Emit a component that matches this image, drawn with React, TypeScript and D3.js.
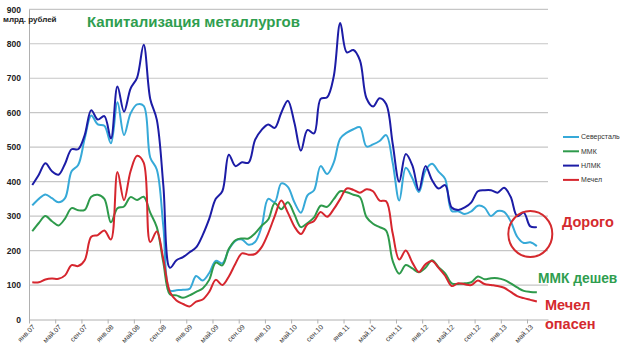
import React, { useRef, useEffect } from "react";
import * as d3 from "d3";

// monthly values, first point = mid Jan 2007
const severstal = [331, 350, 363, 352, 340, 352, 430, 448, 525, 592, 566, 562, 511, 630, 535, 598, 624, 620, 470, 435,
  270, 84, 85, 86, 89, 126, 113, 135, 170, 163, 203, 228, 232, 217, 225, 270, 350, 341, 395, 385,
  340, 310, 360, 375, 445, 422, 455, 525, 542, 552, 558, 502, 508, 518, 535, 455, 345, 440, 410, 370,
  432, 452, 429, 408, 315, 314, 306, 314, 330, 325, 300, 315, 312, 285, 240, 222, 224, 213];
const mmk = [256, 280, 300, 285, 273, 293, 323, 317, 318, 356, 362, 350, 282, 323, 328, 355, 347, 356, 310, 268,
  165, 73, 70, 63, 70, 80, 90, 115, 165, 157, 205, 230, 235, 235, 250, 272, 290, 337, 320, 340,
  305, 268, 280, 296, 330, 327, 349, 372, 369, 362, 355, 297, 278, 268, 258, 170, 133, 158, 148, 137,
  150, 172, 152, 134, 105, 103, 105, 108, 125, 117, 120, 120, 115, 105, 93, 83, 80, 79];
const nlmk = [390, 420, 453, 430, 420, 452, 494, 494, 535, 607, 580, 590, 525, 676, 603, 670, 702, 797, 640, 580,
  389, 150, 172, 181, 195, 209, 245, 292, 350, 372, 478, 445, 456, 455, 521, 550, 566, 556, 600, 635,
  571, 490, 550, 540, 640, 645, 705, 860, 775, 782, 752, 642, 618, 642, 625, 510, 400, 480, 447, 375,
  445, 405, 380, 390, 325, 318, 325, 340, 372, 375, 375, 368, 382, 356, 300, 310, 270, 268];
const mechel = [108, 108, 116, 119, 118, 128, 158, 155, 172, 240, 245, 258, 232, 428, 346, 430, 475, 455, 225, 255,
  175, 80, 55, 45, 38, 52, 58, 80, 115, 100, 125, 162, 192, 188, 190, 210, 250, 300, 345, 310,
  270, 248, 276, 286, 312, 298, 320, 350, 380, 376, 368, 378, 372, 345, 343, 250, 174, 200, 165, 138,
  160, 170, 150, 127, 97, 105, 102, 100, 113, 103, 100, 97, 92, 80, 68, 62, 57, 52];

const seriesNames = ["Северсталь", "ММК", "НЛМК", "Мечел"];
const seriesColors = ["#36a9d8", "#2e9a4b", "#1c1ca6", "#d6262e"];
const tickLabels = ["янв.07", "май.07", "сен.07", "янв.08", "май.08", "сен.08", "янв.09", "май.09", "сен.09", "янв.10",
  "май.10", "сен.10", "янв.11", "май.11", "сен.11", "янв.12", "май.12", "сен.12", "янв.13", "май.13"];
const yTicks = [0, 100, 200, 300, 400, 500, 600, 700, 800, 900];

const font = "'Liberation Sans', Arial, sans-serif";

const App = () => {
  const svgRef = useRef<SVGSVGElement>(null);

  useEffect(() => {
    const svg = d3.select(svgRef.current);
    svg.selectAll("*").remove();

    const x = d3.scaleLinear().domain([0, 79.2]).range([29, 548]);
    const y = d3.scaleLinear().domain([0, 900]).range([319.5, 9.3]);

    // gridlines
    svg.append("g")
      .selectAll("line")
      .data(yTicks.slice(1))
      .enter()
      .append("line")
      .attr("x1", 29)
      .attr("x2", 548)
      .attr("y1", d => y(d))
      .attr("y2", d => y(d))
      .attr("stroke", "#c6c6c6")
      .attr("stroke-width", 1.2);

    // y axis
    const yAxis = svg.append("g")
      .attr("transform", "translate(29,0)")
      .call(d3.axisLeft(y).tickValues(yTicks).tickSize(0).tickPadding(8));
    yAxis.select(".domain").attr("stroke", "#b0b0b0");
    yAxis.selectAll("text")
      .attr("font-family", font)
      .attr("font-size", 8.5)
      .attr("font-weight", "bold")
      .attr("fill", "#222");

    // x axis
    const xAxis = svg.append("g")
      .attr("transform", `translate(0,${y(0)})`)
      .call(d3.axisBottom(x).tickValues(tickLabels.map((_, i) => i * 4))
        .tickFormat((_, i) => tickLabels[i]).tickSize(4).tickSizeOuter(0));
    xAxis.select(".domain").attr("stroke", "#b0b0b0");
    xAxis.selectAll("line").attr("stroke", "#b0b0b0");
    xAxis.selectAll("text")
      .attr("font-family", font)
      .attr("font-size", 7)
      .attr("fill", "#333")
      .attr("text-anchor", "end")
      .attr("dy", 0)
      .attr("transform", "translate(1,3) rotate(-45)");

    // lines
    const allSeries = [severstal, mmk, nlmk, mechel];
    const line = d3.line<number>()
      .x((_, i) => x(i + 0.5))
      .y(d => y(d))
      .curve(d3.curveCatmullRom);

    allSeries.forEach((s, k) => {
      svg.append("path")
        .datum(s)
        .attr("d", line)
        .attr("fill", "none")
        .attr("stroke", seriesColors[k])
        .attr("stroke-width", 2);
    });

    // legend
    const legend = svg.append("g").attr("transform", "translate(563,137)");
    seriesNames.forEach((name, k) => {
      const g = legend.append("g").attr("transform", `translate(0,${k * 14.3})`);
      g.append("line")
        .attr("x1", 0).attr("x2", 16)
        .attr("stroke", seriesColors[k])
        .attr("stroke-width", 2);
      g.append("text")
        .attr("x", 18)
        .attr("dy", "0.35em")
        .attr("font-family", font)
        .attr("font-size", 7)
        .attr("fill", "#333")
        .text(name);
    });

    // labels
    svg.append("text")
      .attr("x", 3).attr("y", 22)
      .attr("font-family", font)
      .attr("font-size", 8)
      .attr("font-weight", "bold")
      .attr("fill", "#222")
      .text("млрд. рублей");

    svg.append("text")
      .attr("x", 87).attr("y", 27)
      .attr("font-family", font)
      .attr("font-size", 15)
      .attr("font-weight", "bold")
      .attr("fill", "#2f9e4f")
      .text("Капитализация металлургов");

    // annotation
    svg.append("ellipse")
      .attr("cx", x(76.5))
      .attr("cy", y(248))
      .attr("rx", 22)
      .attr("ry", 23)
      .attr("fill", "none")
      .attr("stroke", "#d42a2e")
      .attr("stroke-width", 2);

    const notes = [
      { t: "Дорого", x: 562, y: 227, c: "#d42a2e", s: 14.5 },
      { t: "ММК дешев", x: 538, y: 283, c: "#2f9e4f", s: 13.8 },
      { t: "Мечел", x: 545, y: 310, c: "#d42a2e", s: 14.5 },
      { t: "опасен", x: 545, y: 329, c: "#d42a2e", s: 14.5 },
    ];
    notes.forEach(n => {
      svg.append("text")
        .attr("x", n.x).attr("y", n.y)
        .attr("font-family", font)
        .attr("font-size", n.s)
        .attr("font-weight", "bold")
        .attr("fill", n.c)
        .text(n.t);
    });
  }, []);

  return (
    <svg ref={svgRef} width={620} height={351}
      style={{ position: "absolute", left: 0, top: 0, background: "#fff" }} />
  );
};

export default App;
